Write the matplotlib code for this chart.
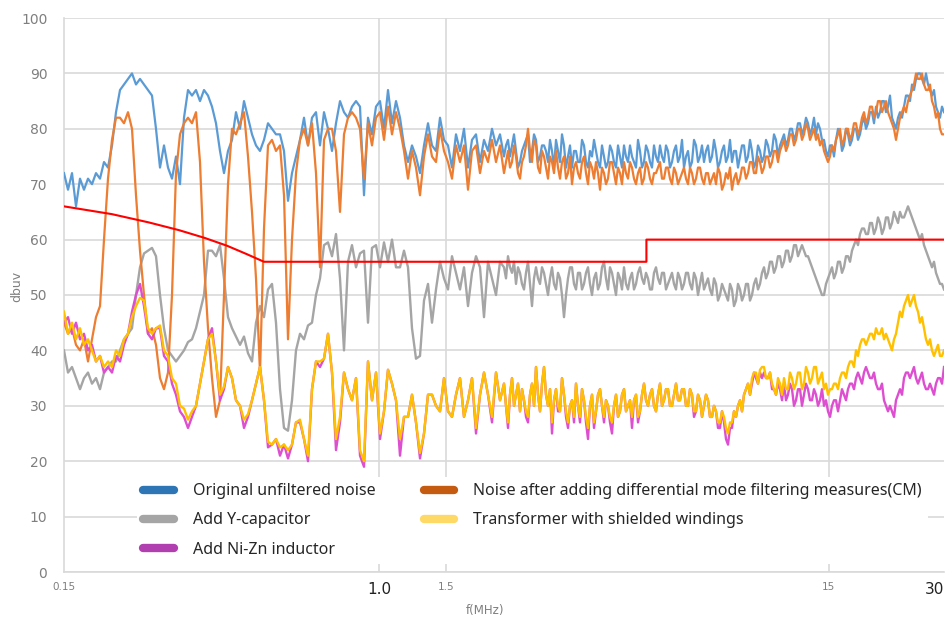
import numpy as np
import matplotlib.pyplot as plt
from matplotlib.lines import Line2D
from matplotlib.ticker import NullLocator

# sweep: 221 log-spaced points from 0.15 to 30 MHz,
# plus extra in-between readings above ~1.9 MHz (points 110..220)
freq = np.geomspace(0.15, 30, 221)
freq_mid = np.sqrt(freq[110:220] * freq[111:221])

orig = [72, 69, 72, 66, 71, 69, 71, 70, 72, 71,
        74, 73, 77, 83, 87, 88, 89, 90, 88, 89,
        88, 87, 86, 80, 73, 77, 73, 71, 75, 70,
        82, 87, 86, 87, 85, 87, 86, 84, 81, 76,
        72, 76, 78, 83, 80, 85, 82, 79, 77, 76,
        78, 81, 80, 79, 79, 76, 67, 72, 75, 78,
        82, 77, 82, 83, 77, 83, 80, 76, 81, 85,
        83, 82, 84, 85, 84, 68, 82, 79, 84, 85,
        80, 87, 81, 85, 82, 77, 74, 77, 75, 72,
        77, 81, 77, 76, 82, 78, 77, 73, 79, 76,
        80, 73, 78, 79, 74, 78, 76, 80, 77, 79,
        75, 78, 77, 76, 74, 77, 79, 76, 78, 75,
        77, 74, 76, 78, 74, 77, 75, 73, 76, 74,
        77, 73, 75, 76, 73, 75, 74, 76, 73, 75,
        77, 74, 75, 73, 76, 74, 76, 73, 75, 77,
        74, 76, 74, 77, 75, 73, 76, 74, 77, 75,
        74, 77, 75, 76, 74, 77, 75, 74, 76, 75,
        77, 75, 76, 74, 76, 75, 77, 76, 78, 77,
        79, 78, 80, 79, 81, 80, 81, 80, 79, 80,
        78, 75, 77, 78, 79, 77, 79, 78, 80, 79,
        82, 81, 83, 84, 83, 85, 84, 82, 80, 83,
        84, 86, 88, 89, 90, 88, 88, 86, 84, 82, 83]
orig_mid = [77, 75, 79, 73, 76, 78, 74, 79, 74, 77,
            76, 78, 73, 76, 79, 73, 77, 76, 74, 78,
            74, 76, 78, 74, 77, 73, 77, 74, 77, 73,
            75, 77, 74, 78, 73, 77, 74, 77, 74, 75,
            77, 73, 76, 74, 78, 75, 73, 78, 74, 77,
            76, 74, 78, 73, 76, 74, 78, 76, 73, 77,
            74, 78, 73, 77, 74, 78, 75, 79, 75, 78,
            77, 80, 78, 81, 79, 82, 79, 82, 81, 78,
            76, 77, 75, 80, 76, 80, 77, 80, 78, 81,
            80, 83, 81, 82, 85, 83, 86, 81, 82, 82,
            86, 85, 87, 90, 89, 90, 87, 87, 83, 84]

dm_filter = [45, 43, 44, 41, 40, 42, 38, 42, 46, 48,
             60, 71, 78, 82, 82, 81, 83, 80, 68, 58,
             50, 43, 44, 41, 35, 33, 36, 50, 72, 79,
             81, 82, 81, 83, 74, 56, 44, 35, 28, 31,
             50, 70, 80, 79, 81, 83, 75, 65, 53, 36,
             62, 77, 78, 76, 77, 68, 42, 60, 72, 78,
             80, 77, 81, 72, 55, 78, 80, 80, 76, 65,
             79, 82, 83, 82, 80, 71, 81, 77, 82, 83,
             78, 84, 79, 83, 80, 76, 71, 76, 73, 68,
             75, 79, 75, 74, 80, 76, 74, 71, 77, 74,
             77, 69, 76, 77, 72, 76, 74, 78, 74, 77,
             72, 76, 74, 75, 71, 75, 80, 74, 77, 72,
             75, 71, 74, 76, 71, 75, 72, 70, 74, 71,
             75, 70, 73, 74, 69, 72, 71, 74, 70, 72,
             74, 71, 73, 70, 73, 71, 73, 70, 72, 74,
             71, 73, 70, 72, 71, 73, 70, 72, 71, 73,
             70, 72, 71, 70, 72, 70, 71, 69, 72, 71,
             73, 72, 74, 72, 74, 73, 75, 74, 76, 76,
             78, 77, 79, 78, 80, 79, 80, 79, 78, 77,
             76, 74, 77, 78, 80, 78, 80, 79, 81, 80,
             83, 82, 84, 83, 85, 84, 83, 81, 78, 82,
             84, 85, 87, 90, 89, 88, 87, 85, 82, 80, 79]
dm_filter_mid = [74, 73, 77, 72, 74, 77, 76, 78, 73, 76,
                 73, 75, 72, 73, 74, 71, 75, 73, 72, 74,
                 72, 74, 71, 72, 73, 70, 74, 72, 73, 70,
                 72, 74, 71, 72, 70, 74, 71, 72, 73, 71,
                 73, 71, 73, 70, 72, 71, 73, 70, 73, 71,
                 72, 70, 72, 73, 69, 72, 73, 71, 70, 73,
                 71, 74, 72, 75, 72, 75, 73, 76, 74, 77,
                 76, 79, 77, 80, 78, 81, 78, 80, 79, 78,
                 75, 75, 76, 79, 77, 80, 78, 81, 79, 82,
                 81, 84, 82, 85, 83, 85, 82, 80, 80, 83,
                 83, 86, 88, 89, 90, 87, 88, 84, 83, 79]

y_cap = [40, 36, 37, 35, 33, 35, 36, 34, 35, 33,
         36, 37, 38, 38, 40, 42, 43, 44, 50, 55,
         57.5, 58, 58.5, 57, 50, 44, 40, 39, 38, 39,
         40, 41.5, 42, 44, 47, 50, 58, 58, 57, 59,
         53, 46, 44, 42.5, 41, 42.5, 39.5, 38, 45, 48,
         46, 51, 52, 45, 33, 26, 25.5, 31, 40, 43,
         42, 44.5, 45, 50, 53, 59, 59.5, 57, 61, 53,
         40, 56, 59, 55, 57.5, 58, 45, 58.5, 59, 55,
         59.5, 56, 60, 55, 55, 58, 55, 44, 38.5, 39,
         49, 52, 45, 51, 56, 53, 51, 57, 54, 51,
         55, 48, 54, 57, 55, 46, 56, 53, 50, 56,
         55, 57, 54, 52, 54, 51, 56, 48, 55, 52,
         54, 50, 55, 51, 53, 46, 53, 55, 51, 54,
         52, 55, 50, 54, 52, 56, 51, 54, 50, 53,
         55, 51, 54, 52, 55, 52, 53, 51, 55, 52,
         54, 52, 54, 51, 53, 52, 54, 51, 53, 52,
         51, 53, 50, 52, 50, 51, 49, 51, 49, 51,
         50, 52, 50, 53, 52, 55, 54, 56, 55, 57,
         56, 58, 57, 59, 58, 58, 57, 55, 53, 51,
         50, 53, 55, 54, 56, 55, 57, 58, 60, 61,
         62, 61, 63, 62, 63, 62, 64, 63, 64, 65,
         64, 66, 64, 62, 60, 59, 57, 55, 54, 52, 51]
y_cap_mid = [53, 55, 56, 55, 52, 54, 52, 53, 53, 55,
             52, 53, 52, 54, 50, 50, 55, 52, 54, 51,
             54, 52, 53, 51, 55, 53, 55, 52, 54, 51,
             52, 53, 51, 54, 53, 54, 51, 54, 53, 54,
             51, 53, 52, 54, 51, 54, 52, 54, 50, 54,
             52, 51, 53, 49, 52, 50, 52, 48, 52, 49,
             52, 49, 52, 51, 54, 53, 56, 54, 57, 55,
             58, 56, 59, 57, 59, 57, 56, 54, 52, 50,
             52, 54, 53, 56, 54, 57, 56, 59, 59, 62,
             61, 63, 61, 64, 61, 64, 62, 65, 63, 64,
             65, 65, 63, 61, 61, 58, 56, 56, 53, 52]

nizn = [45, 46, 43, 45, 42, 43, 40, 41, 38, 39,
        36, 37, 36, 39, 38, 41, 43, 47, 50, 52,
        48, 43, 42, 44, 44, 39, 38, 34, 32, 29,
        28, 26, 28, 30, 34, 38, 42, 44, 38, 31,
        33, 37, 35, 31, 30, 26, 28, 31, 34, 37,
        31, 22.5, 23, 24, 21, 23, 20.5, 23, 27, 27,
        24, 20, 33, 38, 37, 38.5, 43, 36, 22, 27,
        36, 33, 31, 35, 21, 19, 38, 31, 36, 24,
        29, 36.5, 34, 31, 21, 28, 28, 32, 27, 20.5,
        25, 32, 32, 30, 29, 35, 29, 28, 32, 35,
        28, 31, 35, 25, 32, 36, 32, 27, 36, 31,
        34, 26, 35, 32, 29, 31, 27, 34, 37, 29,
        37, 30, 25, 33, 29, 32, 26, 31, 34, 27,
        31, 24, 32, 29, 33, 27, 30, 25, 32, 29,
        33, 30, 26, 32, 29, 34, 30, 33, 29, 34,
        31, 33, 30, 34, 31, 33, 30, 32, 29, 31,
        30, 31, 28, 29, 26, 27, 23, 26, 28, 31,
        32, 34, 34, 35, 36, 36, 35, 33, 32, 33,
        34, 32, 33, 31, 33, 32, 33, 31, 32, 31,
        30, 29, 30, 31, 31, 32, 33, 34, 35, 35,
        36, 36, 35, 34, 33, 31, 29, 29, 31, 33,
        35, 36, 36, 35, 35, 34, 33, 33, 34, 35, 37]
nizn_mid = [30, 32, 30, 34, 33, 28, 32, 30, 32, 34,
            32, 33, 31, 29, 35, 28, 30, 27, 30, 33,
            27, 30, 26, 32, 30, 31, 27, 30, 28, 32,
            29, 31, 31, 27, 32, 31, 32, 30, 32, 30,
            33, 30, 32, 31, 33, 30, 33, 28, 32, 28,
            32, 28, 30, 26, 29, 24, 26, 29, 30, 29,
            33, 32, 36, 34, 35, 35, 36, 33, 34, 31,
            31, 34, 30, 33, 30, 34, 31, 33, 30, 33,
            31, 28, 31, 29, 33, 31, 34, 33, 36, 34,
            37, 35, 36, 33, 34, 30, 30, 28, 32, 32,
            36, 35, 37, 34, 36, 33, 34, 32, 35, 34]

shielded = [47, 43, 45, 42, 44, 41, 42, 40, 38, 39,
            37, 38, 37, 40, 39, 42, 43, 46, 48, 49.5,
            49, 44, 43, 44, 44.5, 40, 39, 35, 34, 30,
            29.5, 27.5, 29, 30, 34, 38, 42, 43, 38, 32,
            33.5, 37, 35, 31, 30, 27.5, 28.5, 31, 34, 37,
            31, 23.5, 23, 24, 22.5, 23, 22, 23, 27, 27.5,
            24, 21, 33, 38, 38, 38.5, 43, 36, 24, 28,
            36, 33, 31, 35, 22, 20, 38, 31, 36, 25,
            29, 36.5, 34, 31, 24, 28, 28, 32, 27, 21.5,
            25, 32, 32, 30, 29, 35, 29, 28, 32, 35,
            28, 31, 35, 26, 32, 36, 32, 28, 36, 31,
            34, 27, 35, 32, 29, 31, 28, 34, 37, 29,
            37, 30, 27, 33, 29, 32, 27, 31, 34, 28,
            31, 26, 32, 29, 33, 28, 30, 27, 32, 29,
            33, 30, 28, 32, 29, 34, 30, 33, 29, 34,
            31, 33, 30, 34, 31, 33, 30, 32, 29, 31,
            30, 31, 28, 29, 27, 28, 25, 27, 28, 31,
            32, 34, 35, 36, 36.5, 37, 35, 34, 32, 34,
            35, 33, 35, 34, 36, 34, 36, 35, 37, 35,
            33, 32, 33, 34, 35, 36, 37, 38, 40, 41,
            42, 42, 43, 44, 43, 42, 42, 40, 43, 47,
            48, 50, 49, 48, 45, 44, 41, 40, 40, 39, 40]
shielded_mid = [30, 32, 30, 34, 33, 29, 32, 30, 32, 34,
                32, 33, 31, 30, 35, 29, 30, 28, 30, 33,
                28, 30, 27, 32, 30, 31, 28, 30, 28, 32,
                29, 31, 31, 28, 32, 31, 32, 30, 32, 30,
                33, 30, 32, 31, 33, 30, 33, 29, 32, 28,
                32, 28, 30, 27, 29, 26, 27, 29, 30, 29,
                33, 32, 36, 34, 37, 35, 36, 33, 35, 32,
                33, 36, 33, 36, 33, 37, 34, 37, 34, 36,
                34, 33, 34, 33, 36, 35, 38, 37, 39, 42,
                41, 43, 42, 43, 44, 43, 41, 42, 45, 46,
                49, 48, 50, 47, 46, 42, 42, 39, 41, 39]

# QP limit line
limit_f = [0.15, 0.2, 0.25, 0.3, 0.35, 0.4, 0.45, 0.5, 5, 5, 30]
limit_v = [66, 64.6, 63.1, 61.7, 60.3, 58.9, 57.4, 56, 56, 60, 60]

labels = ["Original unfiltered noise", "Add Y-capacitor", "Add Ni-Zn inductor",
          "Noise after adding differential mode filtering measures(CM)",
          "Transformer with shielded windings"]

# merge the main sweep with the in-between readings
f_all = np.concatenate([freq, freq_mid])
order = np.argsort(f_all)
f_all = f_all[order]


def merged(main, mid):
    return np.concatenate([main, mid])[order]


fig = plt.figure(figsize=(9.47, 6.22), dpi=100)
ax = fig.add_axes([64/947, 50/622, 880/947, 554/622])

ax.plot(f_all, merged(orig, orig_mid), color="#5B9BD5", lw=1.6, zorder=3)
ax.plot(f_all, merged(dm_filter, dm_filter_mid), color="#ED7D31", lw=1.6, zorder=4)
ax.plot(f_all, merged(y_cap, y_cap_mid), color="#A5A5A5", lw=1.7, zorder=3)
ax.plot(f_all, merged(nizn, nizn_mid), color="#DD4FD0", lw=1.7, zorder=4)
ax.plot(f_all, merged(shielded, shielded_mid), color="#FFC000", lw=1.7, zorder=5)
ax.plot(limit_f, limit_v, color="#FF0000", lw=1.5, zorder=6)

ax.set_xscale("log")
ax.set_xlim(0.15, 30)
ax.set_ylim(0, 100)
ax.xaxis.set_minor_locator(NullLocator())
ax.set_xticks([0.15, 1.0, 1.5, 15, 30])
ax.set_xticklabels(["0.15", "1.0", "1.5", "15", "30"])
for lab in ax.get_xticklabels():
    if lab.get_text() in ("1.0", "30"):
        lab.set_fontsize(11)
        lab.set_color("#222222")
    else:
        lab.set_fontsize(7.5)
        lab.set_color("#7f7f7f")
    if lab.get_text() == "30":
        lab.set_horizontalalignment("right")
ax.set_yticks(range(0, 101, 10))
ax.tick_params(axis="y", length=0, pad=12, labelsize=10, labelcolor="#7f7f7f")
ax.tick_params(axis="x", length=0, pad=7)

ax.yaxis.grid(True, color="#D9D9D9", lw=1.2)
for xv in [1.0, 1.5, 15]:
    ax.axvline(xv, color="#D9D9D9", lw=1.2, zorder=1)
ax.set_axisbelow(True)
for s in ["top", "right"]:
    ax.spines[s].set_visible(False)
for s in ["left", "bottom"]:
    ax.spines[s].set_color("#D9D9D9")
    ax.spines[s].set_linewidth(1.2)

ax.set_ylabel("dbuv", fontsize=9, color="#7f7f7f")
ax.yaxis.set_label_coords(-0.046, 0.515)
ax.set_xlabel("f(MHz)", fontsize=8.5, color="#7f7f7f")
ax.xaxis.set_label_coords(0.478, -0.058)

leg_colors = ["#2E75B6", "#A5A5A5", "#B23FB0", "#C55A11", "#FFD966"]
handles = [Line2D([], [], color=c, lw=6, solid_capstyle="round") for c in leg_colors]
leg = ax.legend(handles, labels, ncol=2, loc="upper left",
                bbox_to_anchor=(0.074, 0.186), frameon=True, framealpha=1,
                facecolor="white", edgecolor="none", fancybox=False,
                prop={"family": "Noto Sans", "size": 11.5},
                handlelength=1.9, handletextpad=1.2, columnspacing=3.0,
                labelspacing=0.82, borderpad=0.4)
leg.set_zorder(10)
for t in leg.get_texts():
    t.set_color("#262626")

fig.savefig("out.png", dpi=100)
